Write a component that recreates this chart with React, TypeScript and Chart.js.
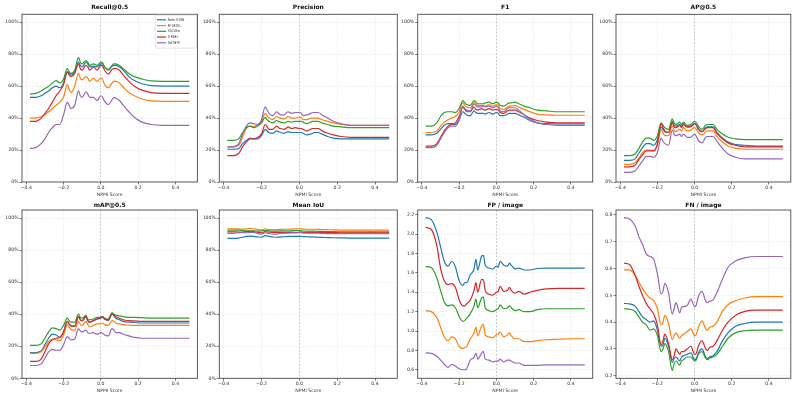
import { useEffect, useRef } from 'react';
import { Chart, registerables } from 'chart.js';

Chart.register(...registerables);

const FONT = "'DejaVu Sans', 'Liberation Sans', sans-serif";

// Shared NPMI score grid (x) for every curve
const npmi = [
  -0.38, -0.35, -0.32, -0.30, -0.28, -0.26, -0.24, -0.22, -0.20, -0.18, -0.17, -0.16, -0.14,
  -0.12, -0.11, -0.10, -0.08, -0.07, -0.06, -0.04, -0.02, 0.00, 0.01, 0.02, 0.04, 0.06, 0.07,
  0.08, 0.10, 0.12, 0.15, 0.18, 0.22, 0.27, 0.33, 0.40, 0.475,
];

const models = ['Faster R-CNN', 'RF-DETR-L', 'YOLO26m', 'D-FINE-L', 'Def-DETR'];
const modelColors = ['#1f77b4', '#ff7f0e', '#2ca02c', '#d62728', '#9467bd'];

const xTicks = [-0.4, -0.2, 0, 0.2, 0.4];
const pctTicks = [0, 20, 40, 60, 80, 100];
const fpTicks = [0.6, 0.8, 1.0, 1.2, 1.4, 1.6, 1.8, 2.0, 2.2];
const fnTicks = [0.2, 0.3, 0.4, 0.5, 0.6, 0.7, 0.8];

// Recall@0.5 (%)
const recallFrcnn = [53, 53, 54, 55.5, 57, 59, 60, 59, 62, 69, 68, 67, 69, 75, 73, 72, 75, 74, 72, 72.5, 72, 74, 74, 72, 70, 72.5, 73, 73, 72, 70, 66, 63.5, 61.5, 60.3, 60, 60, 60];
const recallRfdetr = [40, 40, 41, 42, 44, 46, 48, 50, 53, 61, 58, 56, 60, 68, 65, 64, 66, 65, 63, 65, 63, 65, 64, 61, 59, 62, 63, 63, 62, 59.5, 56, 54, 52, 50.8, 50.5, 50.5, 50.5];
const recallYolo = [55, 55.5, 57, 58.5, 60, 62, 63.5, 62, 64.5, 71, 69, 68, 70, 78, 75, 74, 76, 75, 73, 74, 73, 75, 74.5, 72, 70.5, 73, 74, 74, 73, 71, 68, 66, 64.5, 63.3, 63, 63, 63];
const recallDfine = [38, 38, 40, 43, 46, 50, 54, 57, 61, 69, 67, 66, 68, 74, 71, 70, 73, 72, 70, 72, 70, 73, 72.5, 70, 67.5, 70.5, 71, 71, 70, 67, 63, 60, 57.5, 56, 55.5, 55.5, 55.5];
const recallDefdetr = [21, 21.5, 24, 27, 31, 34, 36, 36, 42, 50, 48, 46, 48, 57, 54, 53, 56.5, 55, 53, 53, 51, 54, 53, 50.5, 48.5, 51.5, 53, 52.5, 51, 48, 44, 40.5, 37.5, 36, 35.5, 35.5, 35.5];

// Precision (%)
const precFrcnn = [20.5, 20.5, 21, 24, 26, 27.5, 27, 27, 29, 33, 32, 31, 30.5, 32, 31.5, 31, 30.5, 31, 31.5, 31, 31, 31, 31, 30.5, 29.5, 30, 30.5, 31, 31, 30, 28.5, 27.5, 27, 27, 27, 27, 27];
const precRfdetr = [22, 22, 23, 28, 33.5, 35, 34.5, 36, 38, 43, 41.5, 40, 39, 41, 40.5, 40, 39.5, 40, 41, 40, 40, 40.5, 40.5, 39, 39, 40, 40, 40, 40, 39, 38, 37, 36, 35.5, 35.5, 35.5, 35.5];
const precYolo = [26, 26, 27, 31, 34, 35, 34, 35, 37, 40.5, 39, 38, 37, 38.5, 38, 37.5, 37, 37.5, 38, 37.5, 38, 38, 38, 37.5, 36.5, 37.5, 38, 38, 38, 37, 36, 35, 34.5, 34, 34, 34, 34];
const precDfine = [16.5, 16.5, 18, 22, 25, 27, 27, 28, 30, 36, 34.5, 33, 33, 35, 34, 33.5, 33, 33.5, 34.5, 33.5, 34, 33.5, 33.5, 33, 32, 33, 33.5, 33.5, 33.5, 32, 30.5, 29.5, 28.5, 28, 28, 28, 28];
const precDefdetr = [22, 22, 24, 30, 35, 37, 36.5, 36, 39, 47, 45, 43, 41.5, 44, 43, 42, 42, 43, 44, 43, 43.5, 43.5, 43, 41.5, 42, 43, 43.5, 43.5, 43.5, 42, 40, 38, 36.5, 35.5, 35.5, 35.5, 35.5];

// F1 (%)
const f1Frcnn = [29.5, 29.5, 30.5, 33, 35.5, 36.5, 36.5, 36, 39, 44, 43, 42, 41.5, 44.5, 43.5, 43, 43, 43, 42.5, 43.5, 42.5, 43.5, 43, 41.5, 41.5, 42.5, 43, 43, 43, 42, 40.5, 38.5, 37, 36.5, 36.3, 36.3, 36.3];
const f1Rfdetr = [31, 31, 32, 35, 37.5, 39, 40, 41, 44, 49.5, 48, 47, 46.5, 49.5, 48.5, 48, 48, 48, 47.5, 48.5, 47.5, 48.5, 48, 46, 45.5, 47, 47.5, 47.5, 48, 47, 45.5, 44, 42.5, 42, 41.8, 41.8, 41.8];
const f1Yolo = [35, 35, 37, 41, 43.5, 44, 44, 43.5, 46, 51, 49.5, 48.5, 48, 51, 50, 49, 49, 49, 49.5, 50, 49, 50, 49.5, 48, 47.5, 49, 49.5, 49.5, 50, 49, 47.5, 46.5, 45, 44.5, 44, 44, 44];
const f1Dfine = [22.5, 22.5, 24, 28, 32, 35, 36, 37, 41, 47, 45.5, 44, 44, 47, 45.5, 45, 46, 45.5, 45, 46, 45, 45.5, 45, 43.5, 43, 44.5, 45, 45, 45, 44, 42, 40, 38.5, 37.5, 37, 37, 37];
const f1Defdetr = [21.5, 21.5, 23, 27, 31, 34, 35, 35, 39, 47.5, 46, 45, 44.5, 49, 48, 47, 47, 47.5, 47, 47.5, 46.5, 47.5, 46.5, 44.5, 44, 46, 46.5, 46.5, 46.5, 45, 42, 39.5, 37, 36, 35.5, 35.5, 35.5];

// AP@0.5 (%)
const apFrcnn = [13.5, 13.5, 14.5, 18, 21.5, 24, 24, 23, 26.5, 34.5, 33, 31.5, 31, 38, 35.5, 35, 36, 35, 36.5, 34.5, 35, 36.5, 35.5, 33.5, 31.5, 34, 34.5, 34.5, 34.5, 31, 27.5, 25, 23.5, 23, 22.5, 22.5, 22.5];
const apRfdetr = [11, 11, 12, 15, 18.5, 20, 20, 19.5, 23, 33, 31, 29, 29, 35, 32.5, 31.5, 33, 32, 34, 32, 32.5, 34, 33, 31, 29.5, 31.5, 32, 32, 32, 28.5, 25, 22.5, 21, 20.5, 20.5, 20.5, 20.5];
const apYolo = [16.5, 16.5, 17.5, 21, 25, 27.5, 27.5, 26, 29, 37, 35.5, 34, 33, 39.5, 37, 36, 37.5, 36, 37.5, 35.5, 36, 38, 37, 35, 33, 35.5, 36, 36, 36, 33, 30, 28, 27, 26.5, 26.5, 26.5, 26.5];
const apDfine = [9.5, 9.5, 10.5, 14, 17, 19.5, 19.5, 19.5, 24, 36.5, 34, 32, 31, 37, 34.5, 34, 35.5, 34, 36, 34.5, 34.5, 36.5, 35.5, 33, 31.5, 33.5, 34, 34, 34, 30.5, 27, 24.5, 23, 22, 22, 22, 22];
const apDefdetr = [6, 6, 7, 10, 13, 16, 16, 15.5, 18.5, 27.5, 25.5, 24, 23, 32.5, 30, 29, 30, 28.5, 30, 28, 28, 30, 28.5, 26, 24.5, 28, 28.5, 28.5, 28.5, 25.5, 21, 17.5, 15.5, 14.5, 14.5, 14.5, 14.5];

// mAP@0.5 (%)
const mapFrcnn = [16, 16, 17, 21, 25, 27.5, 27, 25.5, 29, 35.5, 34, 33, 32.5, 38.5, 36.5, 36, 38.5, 36, 35, 36, 37, 37.5, 38, 37, 36, 40, 39, 37.5, 36.5, 35.5, 35, 34.8, 34.5, 34.5, 34.5, 34.5, 34.5];
const mapRfdetr = [15.5, 15.5, 16.5, 19.5, 23, 24.5, 24, 23.5, 27, 33.5, 32, 30.5, 30, 35.5, 33.5, 33, 35.5, 33.5, 32, 33, 34, 34, 34.5, 33.5, 33, 36, 35.5, 34.5, 34, 33.5, 33.2, 33, 33, 33, 33, 33, 33];
const mapYolo = [20.5, 20.5, 21.5, 25, 29, 31.5, 31, 30, 33, 37.5, 36, 35, 35, 40, 38, 37.5, 39.5, 37, 36.5, 37, 38, 38, 38.5, 37.5, 37, 41, 40, 39.5, 39, 38.5, 38, 38, 37.8, 37.5, 37.5, 37.5, 37.5];
const mapDfine = [10.5, 10.5, 12, 16.5, 21.5, 24, 25, 25.5, 29, 35.5, 34, 32.5, 32.5, 38.5, 36.5, 36, 38.5, 36, 35, 36, 37, 38, 38.5, 37, 36.5, 40, 39.5, 38.5, 37.5, 36.5, 36, 35.8, 35.5, 35.5, 35.5, 35.5, 35.5];
const mapDefdetr = [8, 8, 9, 12.5, 16.5, 18, 17.5, 17.5, 21, 26, 25, 24, 24.5, 31, 29.5, 29, 30, 28.5, 28, 28.5, 27.5, 28.5, 28, 27, 26.5, 31, 30, 28.5, 28.5, 27.5, 26.5, 25.5, 25, 25, 25, 25, 25];

// Mean IoU (%)
const iouFrcnn = [87.3, 87.3, 87.5, 88, 88.5, 88.7, 88.5, 88.2, 88, 89, 88.8, 88.5, 88.2, 88, 88.1, 88.2, 88.3, 88.4, 88.5, 88.5, 88.6, 88.6, 88.5, 88.4, 88.3, 88.2, 88.2, 88.1, 88, 87.9, 87.8, 87.7, 87.6, 87.5, 87.5, 87.5, 87.5];
const iouRfdetr = [93.3, 93.3, 93.2, 93.1, 93.2, 93.5, 93.2, 92.8, 92.6, 93.3, 93, 92.8, 92.7, 92.8, 92.8, 92.9, 93, 93, 93, 93.1, 93.2, 93.3, 93.2, 93.1, 93, 93, 93, 93, 92.9, 92.8, 92.7, 92.6, 92.5, 92.5, 92.5, 92.5, 92.5];
const iouYolo = [92.5, 92.5, 92.4, 92.2, 92, 92, 92, 91.8, 92, 92.3, 92.2, 92, 91.8, 91.8, 91.9, 92, 92, 92, 92, 92, 92.2, 92.2, 92, 91.9, 91.8, 91.8, 91.8, 91.8, 91.7, 91.6, 91.5, 91.5, 91.4, 91.3, 91.3, 91.3, 91.3];
const iouDfine = [90.6, 90.6, 90.8, 91.2, 91.5, 91.7, 91.5, 91, 90.8, 91.5, 91.3, 91.2, 91, 91, 91, 91, 91, 91, 91, 91, 91, 91.2, 91.2, 91.1, 91, 91, 91, 91, 91, 91, 90.9, 90.9, 90.8, 90.8, 90.8, 90.8, 90.8];
const iouDefdetr = [91.5, 91.5, 91.3, 91, 90.8, 91, 91, 90.3, 90, 90.8, 90.5, 90.3, 90, 90, 90.2, 90.4, 90.5, 90.5, 90.6, 90.7, 90.7, 90.8, 90.8, 90.6, 90.5, 90.5, 90.5, 90.5, 90.5, 90.4, 90.3, 90.3, 90.2, 90.2, 90.2, 90.2, 90.2];

// False positives per image
const fpFrcnn = [2.17, 2.15, 2.02, 1.87, 1.72, 1.67, 1.72, 1.66, 1.52, 1.47, 1.5, 1.5, 1.58, 1.64, 1.74, 1.63, 1.77, 1.78, 1.68, 1.65, 1.64, 1.67, 1.66, 1.72, 1.68, 1.67, 1.7, 1.68, 1.64, 1.65, 1.63, 1.63, 1.645, 1.65, 1.65, 1.65, 1.65];
const fpRfdetr = [1.21, 1.2, 1.14, 1.04, 0.94, 0.9, 0.94, 0.92, 0.84, 0.82, 0.83, 0.84, 0.92, 0.98, 1.04, 0.95, 1.05, 1.07, 0.96, 0.94, 0.93, 0.96, 0.97, 0.99, 0.94, 0.96, 0.98, 0.95, 0.92, 0.92, 0.89, 0.89, 0.9, 0.91, 0.915, 0.92, 0.92];
const fpYolo = [1.665, 1.655, 1.55, 1.42, 1.3, 1.26, 1.27, 1.24, 1.15, 1.1, 1.11, 1.13, 1.18, 1.26, 1.33, 1.24, 1.34, 1.35, 1.24, 1.21, 1.2, 1.22, 1.23, 1.27, 1.23, 1.24, 1.26, 1.24, 1.21, 1.22, 1.2, 1.2, 1.22, 1.23, 1.23, 1.23, 1.23];
const fpDfine = [2.07, 2.05, 1.88, 1.65, 1.52, 1.48, 1.49, 1.45, 1.32, 1.26, 1.26, 1.28, 1.32, 1.42, 1.5, 1.4, 1.53, 1.53, 1.42, 1.38, 1.37, 1.4, 1.41, 1.46, 1.41, 1.42, 1.45, 1.42, 1.39, 1.41, 1.38, 1.4, 1.42, 1.435, 1.44, 1.44, 1.44];
const fpDefdetr = [0.775, 0.77, 0.74, 0.7, 0.66, 0.625, 0.655, 0.64, 0.61, 0.6, 0.6, 0.61, 0.7, 0.73, 0.77, 0.71, 0.77, 0.79, 0.71, 0.7, 0.68, 0.69, 0.69, 0.71, 0.68, 0.7, 0.7, 0.69, 0.67, 0.67, 0.645, 0.645, 0.645, 0.65, 0.65, 0.65, 0.65];

// False negatives per image
const fnFrcnn = [0.47, 0.468, 0.46, 0.44, 0.42, 0.41, 0.4, 0.405, 0.37, 0.31, 0.315, 0.34, 0.31, 0.25, 0.265, 0.27, 0.255, 0.27, 0.275, 0.28, 0.285, 0.26, 0.265, 0.285, 0.3, 0.27, 0.265, 0.27, 0.275, 0.29, 0.33, 0.36, 0.385, 0.395, 0.4, 0.4, 0.4];
const fnRfdetr = [0.595, 0.595, 0.575, 0.55, 0.525, 0.505, 0.49, 0.48, 0.45, 0.39, 0.4, 0.425, 0.395, 0.335, 0.35, 0.36, 0.34, 0.35, 0.355, 0.365, 0.375, 0.35, 0.355, 0.38, 0.405, 0.375, 0.37, 0.38, 0.385, 0.4, 0.44, 0.465, 0.48, 0.49, 0.495, 0.495, 0.495];
const fnYolo = [0.45, 0.448, 0.44, 0.42, 0.4, 0.39, 0.37, 0.375, 0.35, 0.29, 0.3, 0.32, 0.29, 0.22, 0.245, 0.255, 0.24, 0.255, 0.26, 0.27, 0.27, 0.255, 0.26, 0.28, 0.29, 0.265, 0.26, 0.265, 0.27, 0.28, 0.31, 0.34, 0.36, 0.368, 0.37, 0.37, 0.37];
const fnDfine = [0.62, 0.615, 0.575, 0.535, 0.5, 0.47, 0.45, 0.43, 0.39, 0.315, 0.33, 0.355, 0.32, 0.26, 0.275, 0.3, 0.28, 0.29, 0.29, 0.3, 0.31, 0.28, 0.285, 0.31, 0.33, 0.3, 0.295, 0.305, 0.31, 0.33, 0.37, 0.4, 0.425, 0.44, 0.445, 0.445, 0.445];
const fnDefdetr = [0.79, 0.785, 0.76, 0.72, 0.69, 0.655, 0.645, 0.635, 0.58, 0.505, 0.515, 0.545, 0.51, 0.43, 0.45, 0.473, 0.435, 0.455, 0.458, 0.462, 0.486, 0.458, 0.465, 0.495, 0.515, 0.478, 0.473, 0.478, 0.483, 0.51, 0.56, 0.605, 0.628, 0.64, 0.645, 0.645, 0.645];

const pct = (v: number) => `${v}%`;
const dec = (v: number) => v.toFixed(1);
const xFmt = (v: number) => (v === 0 ? '0.0' : (v < 0 ? '\u2212' : '') + Math.abs(v).toFixed(1));

type Spec = {
  title: string;
  series: number[][];
  yMin: number;
  yMax: number;
  yTicks: number[];
  fmt: (v: number) => string;
  rect: [number, number, number, number];
  titleY: number;
  canvasTop: number;
  legend?: boolean;
};

const COLS: [number, number][] = [
  [22, 197.4],
  [219.3, 397.3],
  [417.7, 592.7],
  [616, 790.8],
];
const ROW1: [number, number] = [14.3, 182];
const ROW2: [number, number] = [210, 378.3];

const at = (c: number, row: [number, number]): [number, number, number, number] => [
  COLS[c][0],
  row[0],
  COLS[c][1],
  row[1],
];

const specs: Spec[] = [
  { title: 'Recall@0.5', series: [recallFrcnn, recallRfdetr, recallYolo, recallDfine, recallDefdetr], yMin: 0, yMax: 105, yTicks: pctTicks, fmt: pct, rect: at(0, ROW1), titleY: 7.6, canvasTop: 0, legend: true },
  { title: 'Precision', series: [precFrcnn, precRfdetr, precYolo, precDfine, precDefdetr], yMin: 0, yMax: 105, yTicks: pctTicks, fmt: pct, rect: at(1, ROW1), titleY: 7.6, canvasTop: 0 },
  { title: 'F1', series: [f1Frcnn, f1Rfdetr, f1Yolo, f1Dfine, f1Defdetr], yMin: 0, yMax: 105, yTicks: pctTicks, fmt: pct, rect: at(2, ROW1), titleY: 7.6, canvasTop: 0 },
  { title: 'AP@0.5', series: [apFrcnn, apRfdetr, apYolo, apDfine, apDefdetr], yMin: 0, yMax: 105, yTicks: pctTicks, fmt: pct, rect: at(3, ROW1), titleY: 7.6, canvasTop: 0 },
  { title: 'mAP@0.5', series: [mapFrcnn, mapRfdetr, mapYolo, mapDfine, mapDefdetr], yMin: 0, yMax: 105, yTicks: pctTicks, fmt: pct, rect: at(0, ROW2), titleY: 205.2, canvasTop: 199 },
  { title: 'Mean IoU', series: [iouFrcnn, iouRfdetr, iouYolo, iouDfine, iouDefdetr], yMin: 0, yMax: 105, yTicks: pctTicks, fmt: pct, rect: at(1, ROW2), titleY: 205.2, canvasTop: 199 },
  { title: 'FP / image', series: [fpFrcnn, fpRfdetr, fpYolo, fpDfine, fpDefdetr], yMin: 0.512, yMax: 2.249, yTicks: fpTicks, fmt: dec, rect: at(2, ROW2), titleY: 205.2, canvasTop: 199 },
  { title: 'FN / image', series: [fnFrcnn, fnRfdetr, fnYolo, fnDfine, fnDefdetr], yMin: 0.1905, yMax: 0.8185, yTicks: fnTicks, fmt: dec, rect: at(3, ROW2), titleY: 205.2, canvasTop: 199 },
];

const X_MIN = -0.42275;
const X_MAX = 0.51775;
const X_AXIS_H = 15.6;
const TITLE_SIZE = 6;
const TICK_SIZE = 4.6;

// Full box around the plotting area (top/right spines included)
const framePlugin = {
  id: 'frame',
  afterDatasetsDraw(chart: any) {
    const { ctx, chartArea: a } = chart;
    ctx.save();
    ctx.strokeStyle = '#4a4a4a';
    ctx.lineWidth = 0.9;
    ctx.strokeRect(a.left, a.top, a.right - a.left, a.bottom - a.top);
    ctx.restore();
  },
};

// Compact legend box in the upper-right corner of the plot
const cornerLegend = {
  id: 'cornerLegend',
  afterDraw(chart: any) {
    const opts = chart.options.plugins.cornerLegend;
    if (!opts || !opts.show) return;
    const { ctx, chartArea: a } = chart;
    const bw = 41.3;
    const bh = 33;
    const bx = a.right - 0.9 - bw;
    const by = a.top + 0.8;
    ctx.save();
    ctx.beginPath();
    ctx.roundRect(bx, by, bw, bh, 1.2);
    ctx.fillStyle = 'rgba(255,255,255,0.85)';
    ctx.fill();
    ctx.strokeStyle = '#cccccc';
    ctx.lineWidth = 0.6;
    ctx.stroke();
    chart.data.datasets.forEach((ds: any, i: number) => {
      const y = by + 4.7 + i * 5.75;
      ctx.beginPath();
      ctx.moveTo(bx + 1.8, y);
      ctx.lineTo(bx + 10.8, y);
      ctx.strokeStyle = ds.borderColor;
      ctx.lineWidth = 1.2;
      ctx.stroke();
      ctx.save();
      ctx.translate(bx + 12.6, y);
      ctx.scale(0.66, 1);
      ctx.font = `3.8px ${FONT}`;
      ctx.fillStyle = '#222';
      ctx.textBaseline = 'middle';
      ctx.fillText(ds.label, 0, 0.1);
      ctx.restore();
    });
    ctx.restore();
  },
};

function Panel({ spec }: { spec: Spec }) {
  const ref = useRef<HTMLCanvasElement>(null);
  const [l, t, r, b] = spec.rect;
  const cLeft = Math.floor(l) - 23;
  const cTop = spec.canvasTop;
  const cRight = Math.ceil(r) + 6;
  const cBottom = Math.ceil(b + X_AXIS_H);
  const W = cRight - cLeft;
  const H = cBottom - cTop;
  const yAxisW = l - cLeft;
  const titleLine = TITLE_SIZE * 1.2;
  const titlePadTop = spec.titleY - cTop - titleLine / 2;
  const titlePadBottom = t - cTop - titleLine - titlePadTop;

  useEffect(() => {
    if (!ref.current) return;
    const gridColor = (c: any) =>
      c.tick && c.tick.value === 0 ? 'rgba(110,110,110,0.6)' : 'rgba(0,0,0,0.1)';
    const chart = new Chart(ref.current, {
      type: 'line',
      data: {
        datasets: spec.series.map((vals, i) => ({
          label: models[i],
          data: npmi.map((x, k) => ({ x, y: vals[k] })),
          borderColor: modelColors[i],
          backgroundColor: modelColors[i],
          borderWidth: 1.2,
          pointRadius: 0,
          fill: false,
          cubicInterpolationMode: 'monotone' as const,
          order: -i,
        })),
      },
      options: {
        animation: false,
        responsive: false,
        maintainAspectRatio: false,
        devicePixelRatio: 1,
        events: [],
        layout: { padding: { left: 0, top: 0, right: cRight - r, bottom: cBottom - (b + X_AXIS_H) } },
        plugins: {
          legend: { display: false },
          tooltip: { enabled: false },
          title: {
            display: true,
            text: spec.title,
            fullSize: false,
            color: '#111',
            font: { family: FONT, size: TITLE_SIZE, weight: 'bold', lineHeight: 1.2 },
            padding: { top: titlePadTop, bottom: titlePadBottom },
          },
          cornerLegend: { show: !!spec.legend },
        } as any,
        scales: {
          x: {
            type: 'linear',
            min: X_MIN,
            max: X_MAX,
            afterBuildTicks: (s: any) => {
              s.ticks = xTicks.map((v) => ({ value: v }));
            },
            afterFit: (s: any) => {
              s.height = X_AXIS_H;
            },
            ticks: {
              color: '#333',
              font: { family: FONT, size: TICK_SIZE, lineHeight: 1.1 },
              padding: 0.8,
              maxRotation: 0,
              autoSkip: false,
              callback: (v: any) => xFmt(Number(v)),
            },
            grid: {
              color: gridColor,
              lineWidth: 0.6,
              tickLength: 2.5,
              tickColor: '#444',
              tickWidth: 0.7,
            },
            border: { display: false, dash: [2, 1.5] },
            title: {
              display: true,
              text: 'NPMI Score',
              color: '#333',
              font: { family: FONT, size: TICK_SIZE, lineHeight: 1.2 },
              padding: 0,
            },
          },
          y: {
            type: 'linear',
            min: spec.yMin,
            max: spec.yMax,
            afterBuildTicks: (s: any) => {
              s.ticks = spec.yTicks.map((v) => ({ value: v }));
            },
            afterFit: (s: any) => {
              s.width = yAxisW;
            },
            ticks: {
              color: '#333',
              font: { family: FONT, size: TICK_SIZE },
              padding: 1,
              autoSkip: false,
              callback: (v: any) => spec.fmt(Number(v)),
            },
            grid: {
              color: 'rgba(0,0,0,0.1)',
              lineWidth: 0.6,
              tickLength: 2.5,
              tickColor: '#444',
              tickWidth: 0.7,
            },
            border: { display: false, dash: [2, 1.5] },
          },
        },
      } as any,
      plugins: [framePlugin, cornerLegend],
    });
    return () => chart.destroy();
  }, []);

  return (
    <canvas
      ref={ref}
      width={W}
      height={H}
      style={{ position: 'absolute', left: cLeft, top: cTop, width: W, height: H }}
    />
  );
}

export default function App() {
  return (
    <div
      style={{
        position: 'absolute',
        left: 0,
        top: 0,
        width: 797,
        height: 399,
        background: '#fff',
        overflow: 'hidden',
      }}
    >
      {specs.map((s) => (
        <Panel key={s.title} spec={s} />
      ))}
    </div>
  );
}
